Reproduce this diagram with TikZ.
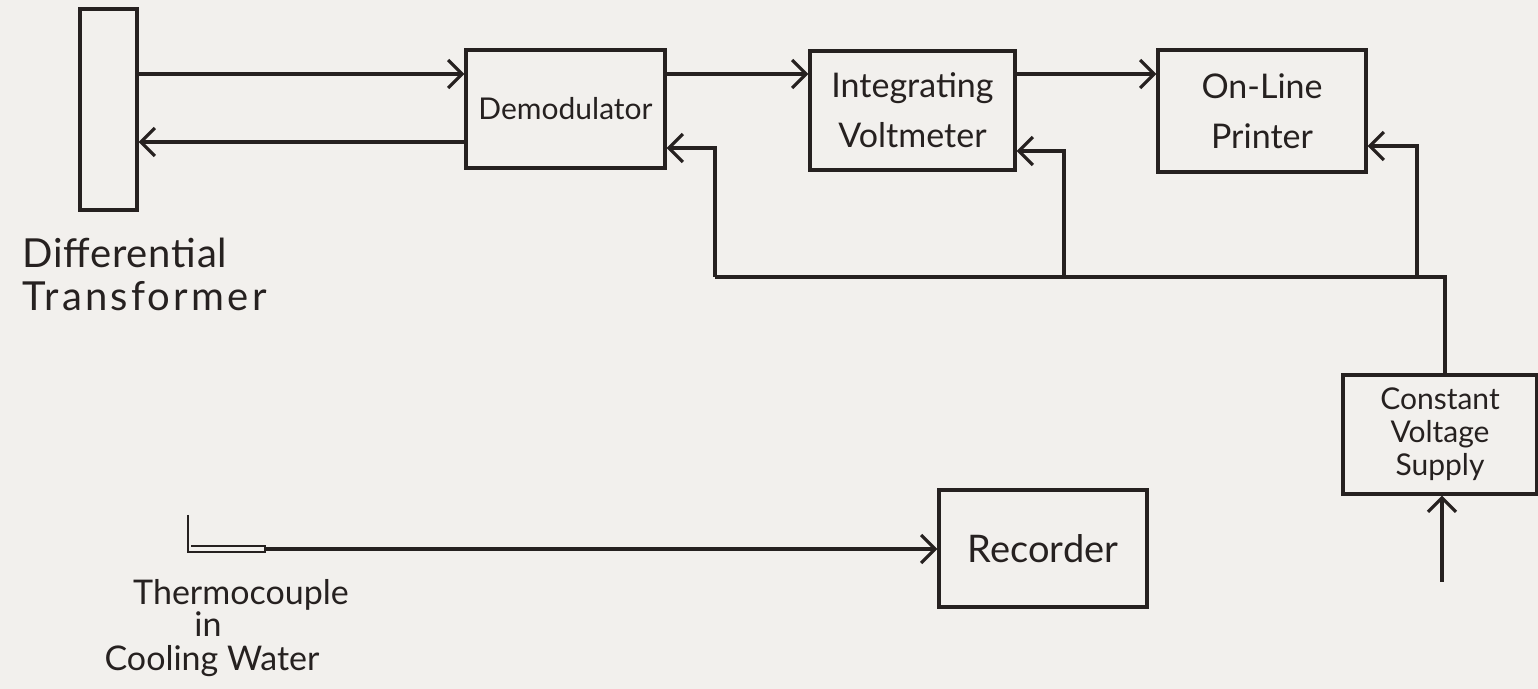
\documentclass[tikz,border=0pt]{standalone}
\usepackage{fontspec}
\setmainfont{Lato}
\usetikzlibrary{arrows.meta}
\definecolor{paper}{RGB}{242,240,237}
\definecolor{ink}{RGB}{38,33,32}
\begin{document}
\begin{tikzpicture}[x=0.5pt,y=-0.5pt,
  box/.style={draw=ink, line width=1.6pt, inner sep=0pt, align=center, text=ink},
  wire/.style={draw=ink, line width=1.6pt},
  arr/.style={wire, -{Straight Barb[length=7pt,width=14pt,line width=1.6pt]}},
  lbl/.style={text=ink, inner sep=0pt}]
\fill[paper] (0,0) rectangle (1538,689);
\useasboundingbox (0,0) rectangle (1538,689);

% blocks
\node[box, minimum width=28.5pt, minimum height=100.5pt] (T) at (108.5,109.5) {};
\node[box, minimum width=99.5pt, minimum height=59pt,
      font=\fontsize{15}{18}\selectfont] (D) at (565.5,109) {Demodulator};
\node[box, minimum width=102.5pt, minimum height=59.5pt,
      font=\fontsize{17}{25}\selectfont] (IV) at (912.5,110.5) {Integrating\\Voltmeter};
\node[box, minimum width=104pt, minimum height=61pt,
      font=\fontsize{17}{25}\selectfont] (P) at (1262,111) {On-Line\\Printer};
\node[box, minimum width=97pt, minimum height=59.5pt,
      font=\fontsize{15}{16.5}\selectfont] (CVS) at (1440,434.5) {Constant\\Voltage\\Supply};
\node[box, minimum width=104pt, minimum height=58.5pt,
      font=\fontsize{19}{22}\selectfont] (R) at (1043,548.5) {Recorder};

% signal levels
\coordinate (yA) at (0,74);
\coordinate (yB) at (0,142);
\coordinate (yC) at (0,148);
\coordinate (yD) at (0,151);
\coordinate (yE) at (0,146);

% forward chain
\draw[arr] (T.east |- yA) -- (D.west |- yA);
\draw[arr] (D.east |- yA) -- (IV.west |- yA);
\draw[arr] (IV.east |- yA) -- (P.west |- yA);
\draw[arr] (D.west |- yB) -- (T.east |- yB);

% supply bus
\coordinate (b1) at (715,277);
\coordinate (b2) at (1064,277);
\coordinate (b3) at (1417,277);
\coordinate (b4) at (1445,277);
\draw[wire] (b1) -- (b4) -- (b4 |- CVS.north);
\draw[arr] (b1) |- (D.east |- yC);
\draw[arr] (b2) |- (IV.east |- yD);
\draw[arr] (b3) |- (P.east |- yE);

% mains input
\coordinate (src) at (1442,582);
\draw[arr] (src) -- (src |- CVS.south);

% thermocouple probe and lead
\coordinate (tcTop) at (188,515);
\coordinate (tc) at (265,549);
\draw[wire, line width=1.2pt] (tcTop) -- (188,552) -- (265,552) -- (265,546) -- (191,546);
\draw[arr] (tc) -- (R.west |- tc);

% labels
\node[lbl, anchor=base west, font=\fontsize{20}{22}\selectfont\addfontfeatures{LetterSpace=2}] (dt1) at (22,268) {Differential};
\node[lbl, anchor=base west, font=\fontsize{20}{22}\selectfont\addfontfeatures{LetterSpace=8}] (dt2) at (22,311) {Transformer};
\node[lbl, anchor=base, font=\fontsize{17}{20}\selectfont] (tc1) at (241,605) {Thermocouple};
\node[lbl, anchor=base, font=\fontsize{17}{20}\selectfont] (tc2) at (208,637) {in};
\node[lbl, anchor=base, font=\fontsize{17}{20}\selectfont] (tc3) at (212,670) {Cooling Water};
\end{tikzpicture}
\end{document}
